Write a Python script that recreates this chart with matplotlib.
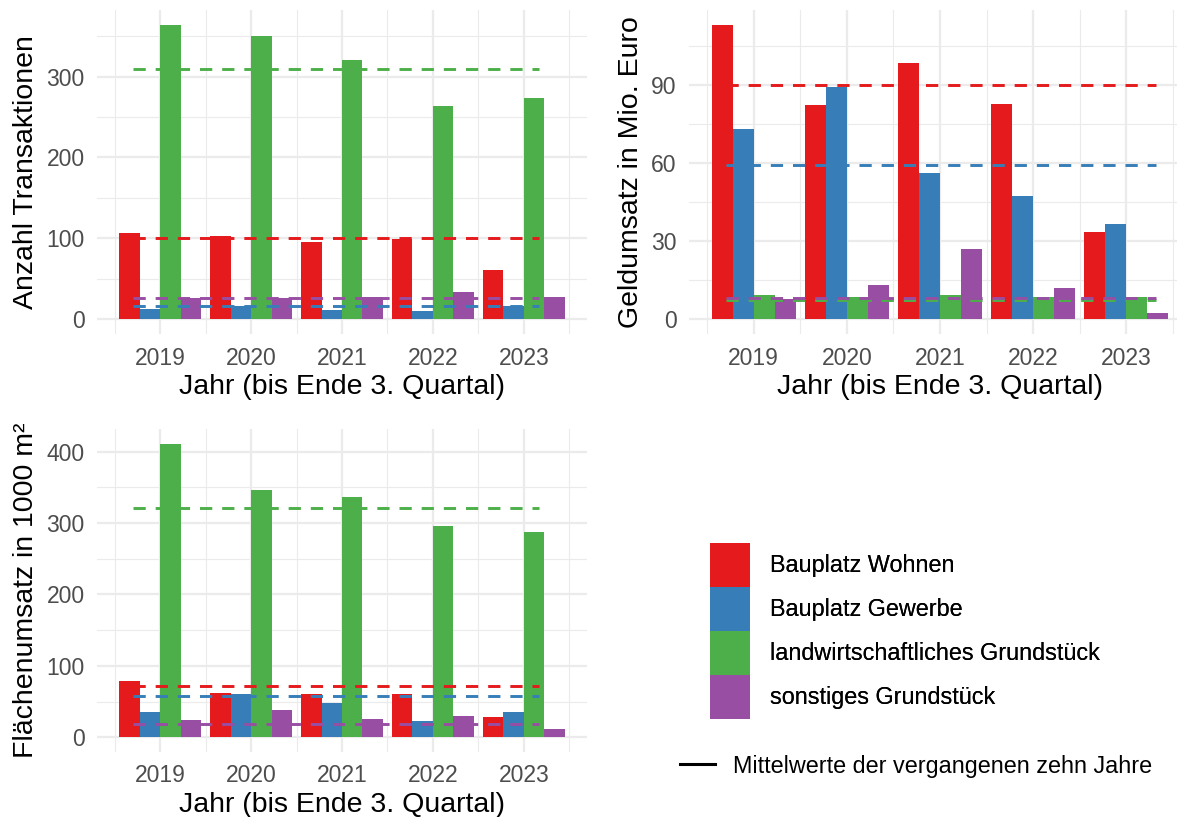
import numpy as np
import matplotlib
matplotlib.use("Agg")
import matplotlib.pyplot as plt
from matplotlib.patches import Patch
from matplotlib.lines import Line2D

plt.rcParams['font.family'] = ['Liberation Sans', 'DejaVu Sans']

years = [2019, 2020, 2021, 2022, 2023]
kategorien = ["Bauplatz Wohnen", "Bauplatz Gewerbe",
              "landwirtschaftliches Grundstück", "sonstiges Grundstück"]
farben = ["#E41A1C", "#377EB8", "#4DAF4A", "#984EA3"]

# Anzahl Transaktionen
anzahl = {
    "Bauplatz Wohnen": [107, 103, 96, 99, 61],
    "Bauplatz Gewerbe": [13, 16, 11, 10, 17],
    "landwirtschaftliches Grundstück": [364, 350, 321, 264, 273],
    "sonstiges Grundstück": [26, 26, 28, 34, 27],
}
anzahl_mittel = [100, 17, 309, 26]

# Geldumsatz in Mio. Euro
geld = {
    "Bauplatz Wohnen": [113.3, 82.3, 98.6, 82.8, 33.7],
    "Bauplatz Gewerbe": [73.3, 89.2, 56.2, 47.4, 36.8],
    "landwirtschaftliches Grundstück": [9.5, 8.5, 9.5, 8.7, 8.7],
    "sonstiges Grundstück": [7.9, 13.3, 27.2, 11.9, 2.6],
}
geld_mittel = [90, 59.4, 7.3, 8.0]

# Flaechenumsatz in 1000 m2
flaeche = {
    "Bauplatz Wohnen": [79, 62.7, 60, 61.3, 29],
    "Bauplatz Gewerbe": [35.3, 60, 47.9, 23.2, 34.8],
    "landwirtschaftliches Grundstück": [411, 346.6, 337, 296, 287],
    "sonstiges Grundstück": [23.7, 38, 25.5, 29.7, 12],
}
flaeche_mittel = [72.5, 58, 320.6, 19]

W, H = 1177, 817
fig = plt.figure(figsize=(W / 100, H / 100), dpi=100)


def px_axes(left, top, right, bottom):
    return fig.add_axes([left / W, 1 - bottom / H, (right - left) / W, (bottom - top) / H])


def panel(ax, daten, mittel, ylabel, major, minor, seg_end):
    yrs = np.array(years)
    bw = 0.225
    offs = (np.arange(4) - 1.5) * bw
    for i, k in enumerate(kategorien):
        ax.bar(yrs + offs[i], daten[k], width=bw, color=farben[i], zorder=2)
    for i, m in enumerate(mittel):
        ax.hlines(m, 2018.7, seg_end, colors=farben[i], lw=2.1,
                  linestyles=(0, (4.2, 3.4)), zorder=3)
    top = max(max(max(v) for v in daten.values()), max(mittel))
    ax.set_ylim(-0.05 * top, 1.05 * top)
    ax.set_xlim(2018.305, 2023.695)
    ax.set_xticks(years)
    ax.set_xticks(np.arange(2018.5, 2024, 1.0), minor=True)
    ax.set_yticks(major)
    ax.set_yticks(minor, minor=True)
    ax.grid(which='major', color='#EBEBEB', lw=1.6, zorder=0)
    ax.grid(which='minor', color='#EBEBEB', lw=0.8, zorder=0)
    ax.set_axisbelow(True)
    for s in ax.spines.values():
        s.set_visible(False)
    ax.tick_params(which='both', length=0, pad=9.0, labelsize=16.5, labelcolor='#4D4D4D')
    ax.set_xlabel("Jahr (bis Ende 3. Quartal)", fontsize=20.5, labelpad=3)
    ax.set_ylabel(ylabel, fontsize=20.5, labelpad=5)


ax1 = px_axes(97, 10, 587, 334)
panel(ax1, anzahl, anzahl_mittel, "Anzahl Transaktionen",
      [0, 100, 200, 300], [50, 150, 250, 350], 2023.17)

ax2 = px_axes(689, 10, 1191, 334)
panel(ax2, geld, geld_mittel, "Geldumsatz in Mio. Euro",
      [0, 30, 60, 90], [15, 45, 75, 105], 2023.32)

ax3 = px_axes(97, 429, 587, 752)
panel(ax3, flaeche, flaeche_mittel, "Flächenumsatz in 1000 m²",
      [0, 100, 200, 300, 400], [50, 150, 250, 350], 2023.17)

handles = [Patch(facecolor=c, edgecolor='none') for c in farben]
leg1 = fig.legend(handles, kategorien, loc='upper left',
                  bbox_to_anchor=(710 / W, 1 - 543 / H), frameon=False,
                  fontsize=16.8, handlelength=1.71, handleheight=2.525,
                  labelspacing=0, handletextpad=0.86, borderpad=0, borderaxespad=0)
fig.add_artist(leg1)
fig.legend([Line2D([], [], color='black', lw=2.2)],
           ["Mittelwerte der vergangenen zehn Jahre"], loc='center left',
           bbox_to_anchor=(680 / W, 1 - 766 / H), frameon=False,
           fontsize=16.8, handlelength=1.5, handletextpad=0.77,
           borderpad=0, borderaxespad=0)

fig.savefig("out.png", dpi=100)
